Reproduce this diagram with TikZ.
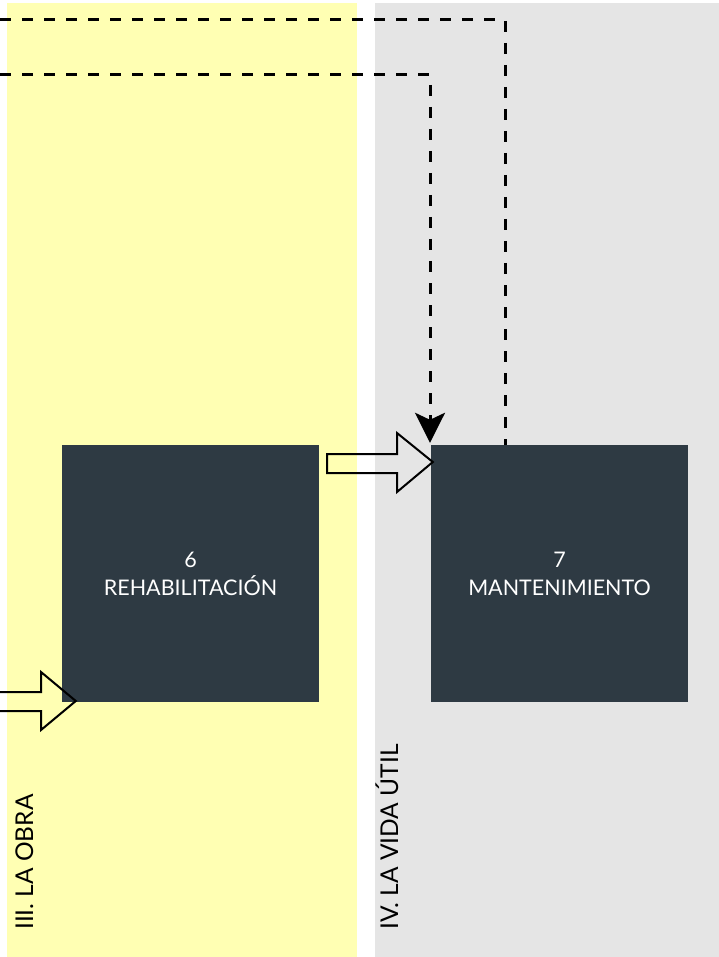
\documentclass[tikz,border=0pt]{standalone}
\usepackage{fontspec}
\setmainfont{Lato}
\usetikzlibrary{arrows.meta}
\definecolor{bandY}{HTML}{FFFFB3}
\definecolor{bandG}{HTML}{E5E5E5}
\definecolor{boxC}{HTML}{2E3A43}
\begin{document}
\begin{tikzpicture}[x=1pt,y=-1pt,
  procbox/.style={fill=boxC, draw=none, minimum width=257pt, minimum height=257pt,
    text=white, font=\fontsize{21.5}{28}\selectfont, align=center, inner sep=0pt},
  phase/.style={rotate=90, anchor=base west, font=\fontsize{24.5}{28}\selectfont, inner sep=0pt},
  flow/.style={line width=3pt, dash pattern=on 11pt off 11pt, black},
  blockarrow/.style={line width=2pt, black, line join=miter}
]
\useasboundingbox (0,0) rectangle (718,957);
% bands
\fill[bandY] (7,3) rectangle (357,960);
\fill[bandG] (375,3) rectangle (720,960);
% phase labels
\node[phase] (l3) at (33,930) {III. LA OBRA};
\node[phase] (l4) at (398,930) {IV. LA VIDA ÚTIL};
% boxes
\node[procbox] (b6) at (190.5,573.5) {6\\REHABILITACIÓN};
\node[procbox] (b7) at (559.5,573.5) {7\\MANTENIMIENTO};
% dashed connectors
\coordinate (s1) at (0,20);
\coordinate (s2) at (0,75);
\draw[flow] (s1) -| ([xshift=-54.5pt]b7.north);
\draw[flow, -{Stealth[length=30pt, width=30pt, inset=7pt]}] (s2) -| ([xshift=-129.5pt, yshift=2pt]b7.north);
% block arrows
\coordinate (a1) at (327,463.5);
\draw[blockarrow] (a1) ++(0,-9.5) -- (397,454) -- (397,433) -- ([xshift=2pt,yshift=111.5pt]b7.west) -- (397,492) -- (397,473) -- (327,473) -- cycle;
\coordinate (a2) at (-5,701.5);
\draw[blockarrow] (a2) ++(0,-9.5) -- (41,692) -- (41,672) -- ([xshift=14pt,yshift=-127.5pt]b6.west) -- (41,730) -- (41,711) -- (-5,711) -- cycle;
\end{tikzpicture}
\end{document}
